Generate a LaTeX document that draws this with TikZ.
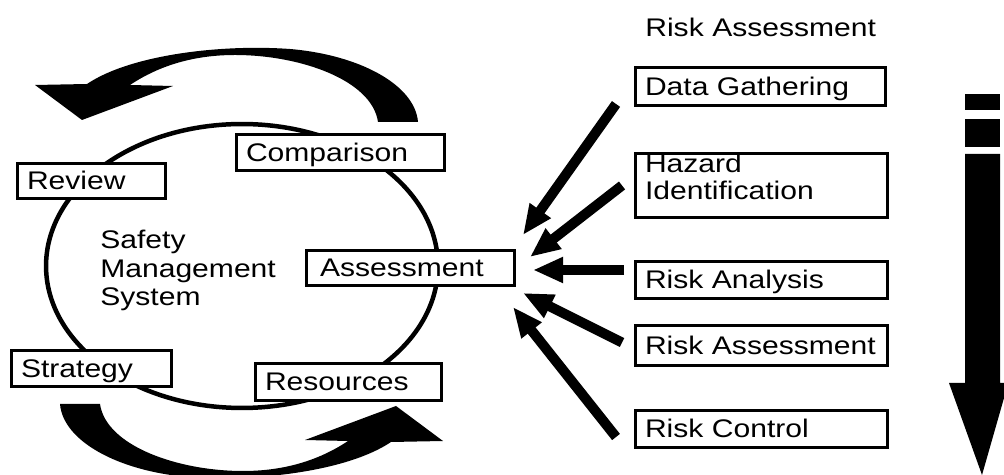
\documentclass[tikz,border=0pt]{standalone}
\usepackage{fontspec}
\setmainfont{Liberation Sans}[FakeStretch=1.18]
\usetikzlibrary{arrows.meta,calc}
\begin{document}
\begin{tikzpicture}[x=0.02cm,y=-0.02cm,
  txt/.style={font=\fontsize{14.5}{16.4}\selectfont},
  box/.style={txt, draw, line width=0.06cm, fill=white, inner xsep=0.19cm, inner ysep=0pt,
    align=left, text height=0.42cm, text depth=0.06cm},
  plain/.style={txt, inner sep=0pt, align=left, text height=0.36cm},
  ring/.style={line width=0.09cm},
  feed/.style={line width=0.2cm, -{Triangle[length=0.6cm,width=0.48cm]}},
  sweep/.style={fill=black},
  bar/.style={fill=black}]
\useasboundingbox (0,0) rectangle (1004,475);

% cycle ring
\draw[ring] (242,266) ellipse [x radius=3.92cm, y radius=2.84cm];

% circular arrows
\fill[sweep] (418,122) .. controls (415,85) and (360,55) .. (290,49)
  .. controls (220,44) and (130,55) .. (87,84) -- (35,85) -- (82,120) -- (173,86) -- (130,85)
  .. controls (160,65) and (195,55) .. (235,55) .. controls (300,55) and (372,80) .. (378,122) -- cycle;
\begin{scope}[rotate around={180:(239,263)}]
\fill[sweep] (418,122) .. controls (415,85) and (360,55) .. (290,49)
  .. controls (220,44) and (130,55) .. (87,84) -- (35,85) -- (82,120) -- (173,86) -- (130,85)
  .. controls (160,65) and (195,55) .. (235,55) .. controls (300,55) and (372,80) .. (378,122) -- cycle;
\end{scope}

% left boxes
\node[box, text width=2.58cm, minimum height=0.70cm] (rev) at (91.5,181) {Review};
\node[box, text width=3.78cm, minimum height=0.72cm] (cmp) at (340.5,152.5) {Comparison};
\node[box, inner xsep=0.27cm, text width=3.62cm, minimum height=0.70cm] (ass) at (410.5,268) {Assessment};
\node[box, text width=2.82cm, minimum height=0.72cm] (str) at (91.5,368.5) {Strategy};
\node[box, text width=3.34cm, minimum height=0.74cm] (res) at (348.5,382) {Resources};
\node[plain, text width=3.6cm, anchor=north west] (sms) at (100,230) {Safety\\Management\\System};

% right column
\node[plain, text width=4.8cm, anchor=north west] (title) at (645,18) {Risk Assessment};
\node[box, text width=4.62cm, minimum height=0.76cm] (dg) at (760.5,86.5) {Data Gathering};
\node[box, text width=4.66cm, minimum height=1.28cm, text height=0.36cm, text depth=0.86cm,
  font=\fontsize{14.5}{15.2}\selectfont] (hz) at (761.5,185.5) {Hazard\\Identification};
\node[box, text width=4.66cm, minimum height=0.74cm] (ra) at (761.5,280) {Risk Analysis};
\node[box, text width=4.66cm, minimum height=0.80cm] (rs) at (761.5,345.5) {Risk Assessment};
\node[box, text width=4.66cm, minimum height=0.74cm] (rc) at (761.5,429) {Risk Control};

% feeding arrows
\coordinate (e1) at (523,235);
\coordinate (e2) at (530,257);
\coordinate (e3) at (533,270);
\coordinate (e4) at (523,293);
\coordinate (e5) at (513,307);
\draw[feed] ($(dg.south west)+(-18,-3)$) -- (e1);
\draw[feed] ($(hz.west)+(-12,0)$) -- (e2);
\draw[feed] ($(ra.west)+(-10,-10)$) -- (e3);
\draw[feed] ($(rs.west)+(-12,-3)$) -- (e4);
\draw[feed] ($(rc.west)+(-18,8)$) -- (e5);

% big down arrow
\fill[bar] (965,94) rectangle (1000,110);
\fill[bar] (965,119) rectangle (1000,147);
\fill[bar] (965,154) -- (1000,154) -- (1000,383) -- (1004,383) -- (1004,398) -- (982,475)
  -- (949,383) -- (965,383) -- cycle;
\end{tikzpicture}
\end{document}
